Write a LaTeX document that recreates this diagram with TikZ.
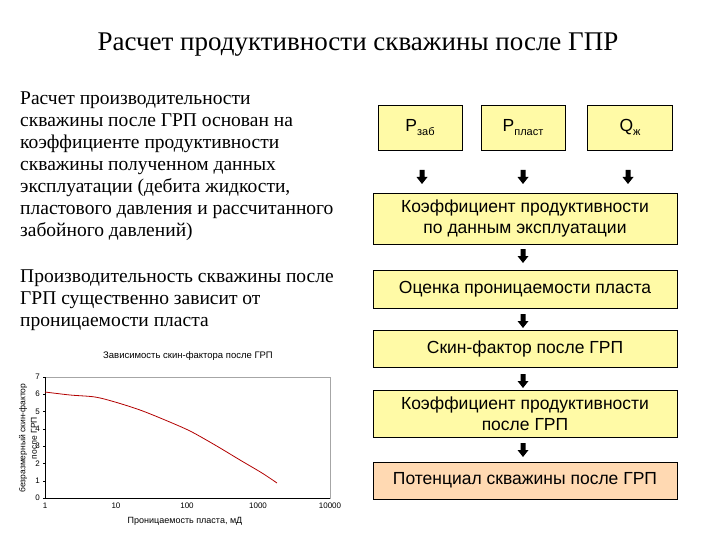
\documentclass[tikz,border=0pt]{standalone}
\usepackage{fontspec}
\setmainfont{Liberation Serif}
\newfontfamily\arial{Liberation Sans}
\begin{document}
\begin{tikzpicture}[x=1pt,y=-1pt,
  box/.style={draw=black,line width=0.8pt,fill=yellow!35!white,font=\arial\fontsize{17.5}{21}\selectfont,align=center,inner sep=0pt},
  lt/.style={anchor=north west,font=\fontsize{19.5}{22}\selectfont,align=left,inner sep=0pt},
  ax/.style={font=\arial\fontsize{8}{9}\selectfont,inner sep=0pt}]
\useasboundingbox (0,0) rectangle (720,540);
\node[font=\fontsize{27}{30}\selectfont] (title) at (358,45) {Расчет продуктивности скважины после ГПР};
\node[lt] (p1) at (20,92) {Расчет производительности\\скважины после ГРП основан на\\коэффициенте продуктивности\\скважины полученном данных\\эксплуатации (дебита жидкости,\\пластового давления и рассчитанного\\забойного давлений)};
\node[lt] (p2) at (20,270) {Производительность скважины после\\ГРП существенно зависит от\\проницаемости пласта};
% boxes
\node[box,minimum width=84pt,minimum height=45pt] (b1) at (420,127.5) {Р\raisebox{-0.4ex}{\fontsize{11}{11}\selectfont заб}};
\node[box,minimum width=84pt,minimum height=45pt] (b2) at (523,127.5) {Р\raisebox{-0.4ex}{\fontsize{11}{11}\selectfont пласт}};
\node[box,minimum width=85pt,minimum height=45pt] (b3) at (630,127.5) {Q\raisebox{-0.4ex}{\fontsize{11}{11}\selectfont ж}};
\node[box,minimum width=304pt,minimum height=51pt] (k1) at (525,218.5) {Коэффициент продуктивности\\по данным эксплуатации};
\node[box,minimum width=304pt,minimum height=38pt] (oc) at (525,289) {Оценка проницаемости пласта};
\node[box,minimum width=304pt,minimum height=37pt] (sk) at (525,348.5) {Скин-фактор после ГРП};
\node[box,minimum width=304pt,minimum height=47pt] (k2) at (525,413.5) {Коэффициент продуктивности\\после ГРП};
\node[box,fill=orange!30!white,minimum width=304pt,minimum height=37pt] (pt) at (525,480.5) {Потенциал скважины после ГРП};
% block arrows
\foreach \n/\xx/\yy in {a1/422/170,a2/523/170,a3/628/170,a4/523/249,a5/523/314,a6/523/374,a7/523/443}{
  \fill[black] (\xx-2.5,\yy) -- (\xx+2.5,\yy) -- (\xx+2.5,\yy+7) -- (\xx+5.5,\yy+7) -- (\xx,\yy+14) -- (\xx-5.5,\yy+7) -- (\xx-2.5,\yy+7) -- cycle;
}
% chart
\node[ax,font=\arial\fontsize{9.5}{10}\selectfont] (ct) at (188,356) {Зависимость скин-фактора после ГРП};
\draw[gray!70] (45,377) rectangle (330,498);
\draw[black,line width=0.6pt] (45,377) -- (45,498) -- (330,498);
\foreach \v in {0,...,7}{
  \node[ax,anchor=east] (y\v) at (40,{498-17.3*\v}) {\v};
  \draw (43,{498-17.3*\v}) -- (45,{498-17.3*\v});
}
\foreach \lab/\xx in {1/45,10/116,100/187,1000/258,10000/330}{
  \node[ax,anchor=north] (x\lab) at (\xx,503) {\lab};
}
\node[ax,rotate=90,font=\arial\fontsize{8.5}{9}\selectfont] (yl1) at (23,438) {безразмерный скин-фактор};
\node[ax,rotate=90,font=\arial\fontsize{8.5}{9}\selectfont] (yl2) at (34,438) {после ГРП};
\node[ax,font=\arial\fontsize{9}{10}\selectfont] (xl) at (185,521) {Проницаемость пласта, мД};
\draw[red!70!black,line width=0.8pt] plot[smooth] coordinates {(45,392) (70,395) (95,397) (115,402) (140,410) (165,420) (190,431) (215,445) (240,460) (262,473) (277,483)};
\end{tikzpicture}
\end{document}
